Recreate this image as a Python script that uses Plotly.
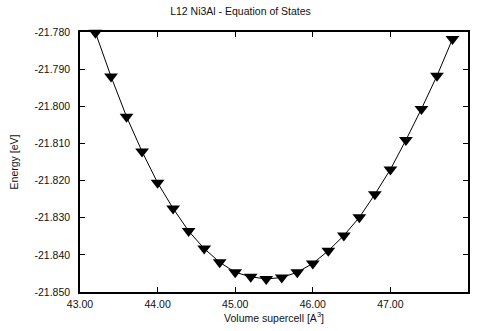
import plotly.graph_objects as go

volume = [43.2, 43.4, 43.6, 43.8, 44.0, 44.2, 44.4, 44.6, 44.8, 45.0, 45.2, 45.4,
          45.6, 45.8, 46.0, 46.2, 46.4, 46.6, 46.8, 47.0, 47.2, 47.4, 47.6, 47.8]
energy = [-21.7802, -21.7920, -21.8028, -21.8122, -21.8206, -21.8275, -21.8336, -21.8383,
          -21.8420, -21.8447, -21.8459, -21.8465, -21.8461, -21.8447, -21.8423, -21.8389,
          -21.8348, -21.8299, -21.8237, -21.8170, -21.8091, -21.8007, -21.7918, -21.7819]

x_ticks = [43.0, 44.0, 45.0, 46.0, 47.0, 48.0]
x_labels = ["43.00", "44.00", "45.00", "46.00", "47.00", "48.00"]
y_ticks = [-21.85, -21.84, -21.83, -21.82, -21.81, -21.80, -21.79, -21.78]
y_labels = ["-21.850", "-21.840", "-21.830", "-21.820", "-21.810", "-21.800", "-21.790", "-21.780"]

font = dict(family="Liberation Sans, Arial, sans-serif", size=10.5, color="#111")

fig = go.Figure()
fig.add_trace(go.Scatter(
    x=volume, y=energy, mode="lines+markers",
    line=dict(color="black", width=1),
    marker=dict(symbol="triangle-down", size=12, color="black"),
    cliponaxis=False, showlegend=False,
))

axis_common = dict(
    showline=True, linecolor="black", linewidth=1.5, mirror="ticks",
    ticks="inside", ticklen=5, tickcolor="black", tickwidth=1,
    showgrid=False, zeroline=False, tickfont=font, automargin=False,
)

fig.update_layout(
    width=481, height=331,
    margin=dict(l=80, r=13, t=32, b=39),
    paper_bgcolor="white", plot_bgcolor="white",
    font=font,
    title=dict(text="L12 Ni3Al - Equation of States", x=0.5, xanchor="center",
               y=0.965, yanchor="middle", font=font),
    xaxis=dict(range=[43, 48], tickvals=x_ticks, ticktext=x_labels,
               ticklabelstandoff=2,
               title=dict(text="Volume supercell [A<sup>3</sup>]", font=font, standoff=5),
               **axis_common),
    yaxis=dict(range=[-21.85, -21.78], tickvals=y_ticks, ticktext=y_labels,
               ticklabelstandoff=6,
               title=dict(text="Energy [eV]", font=font, standoff=14),
               **axis_common),
)

fig.write_html("out.html")
